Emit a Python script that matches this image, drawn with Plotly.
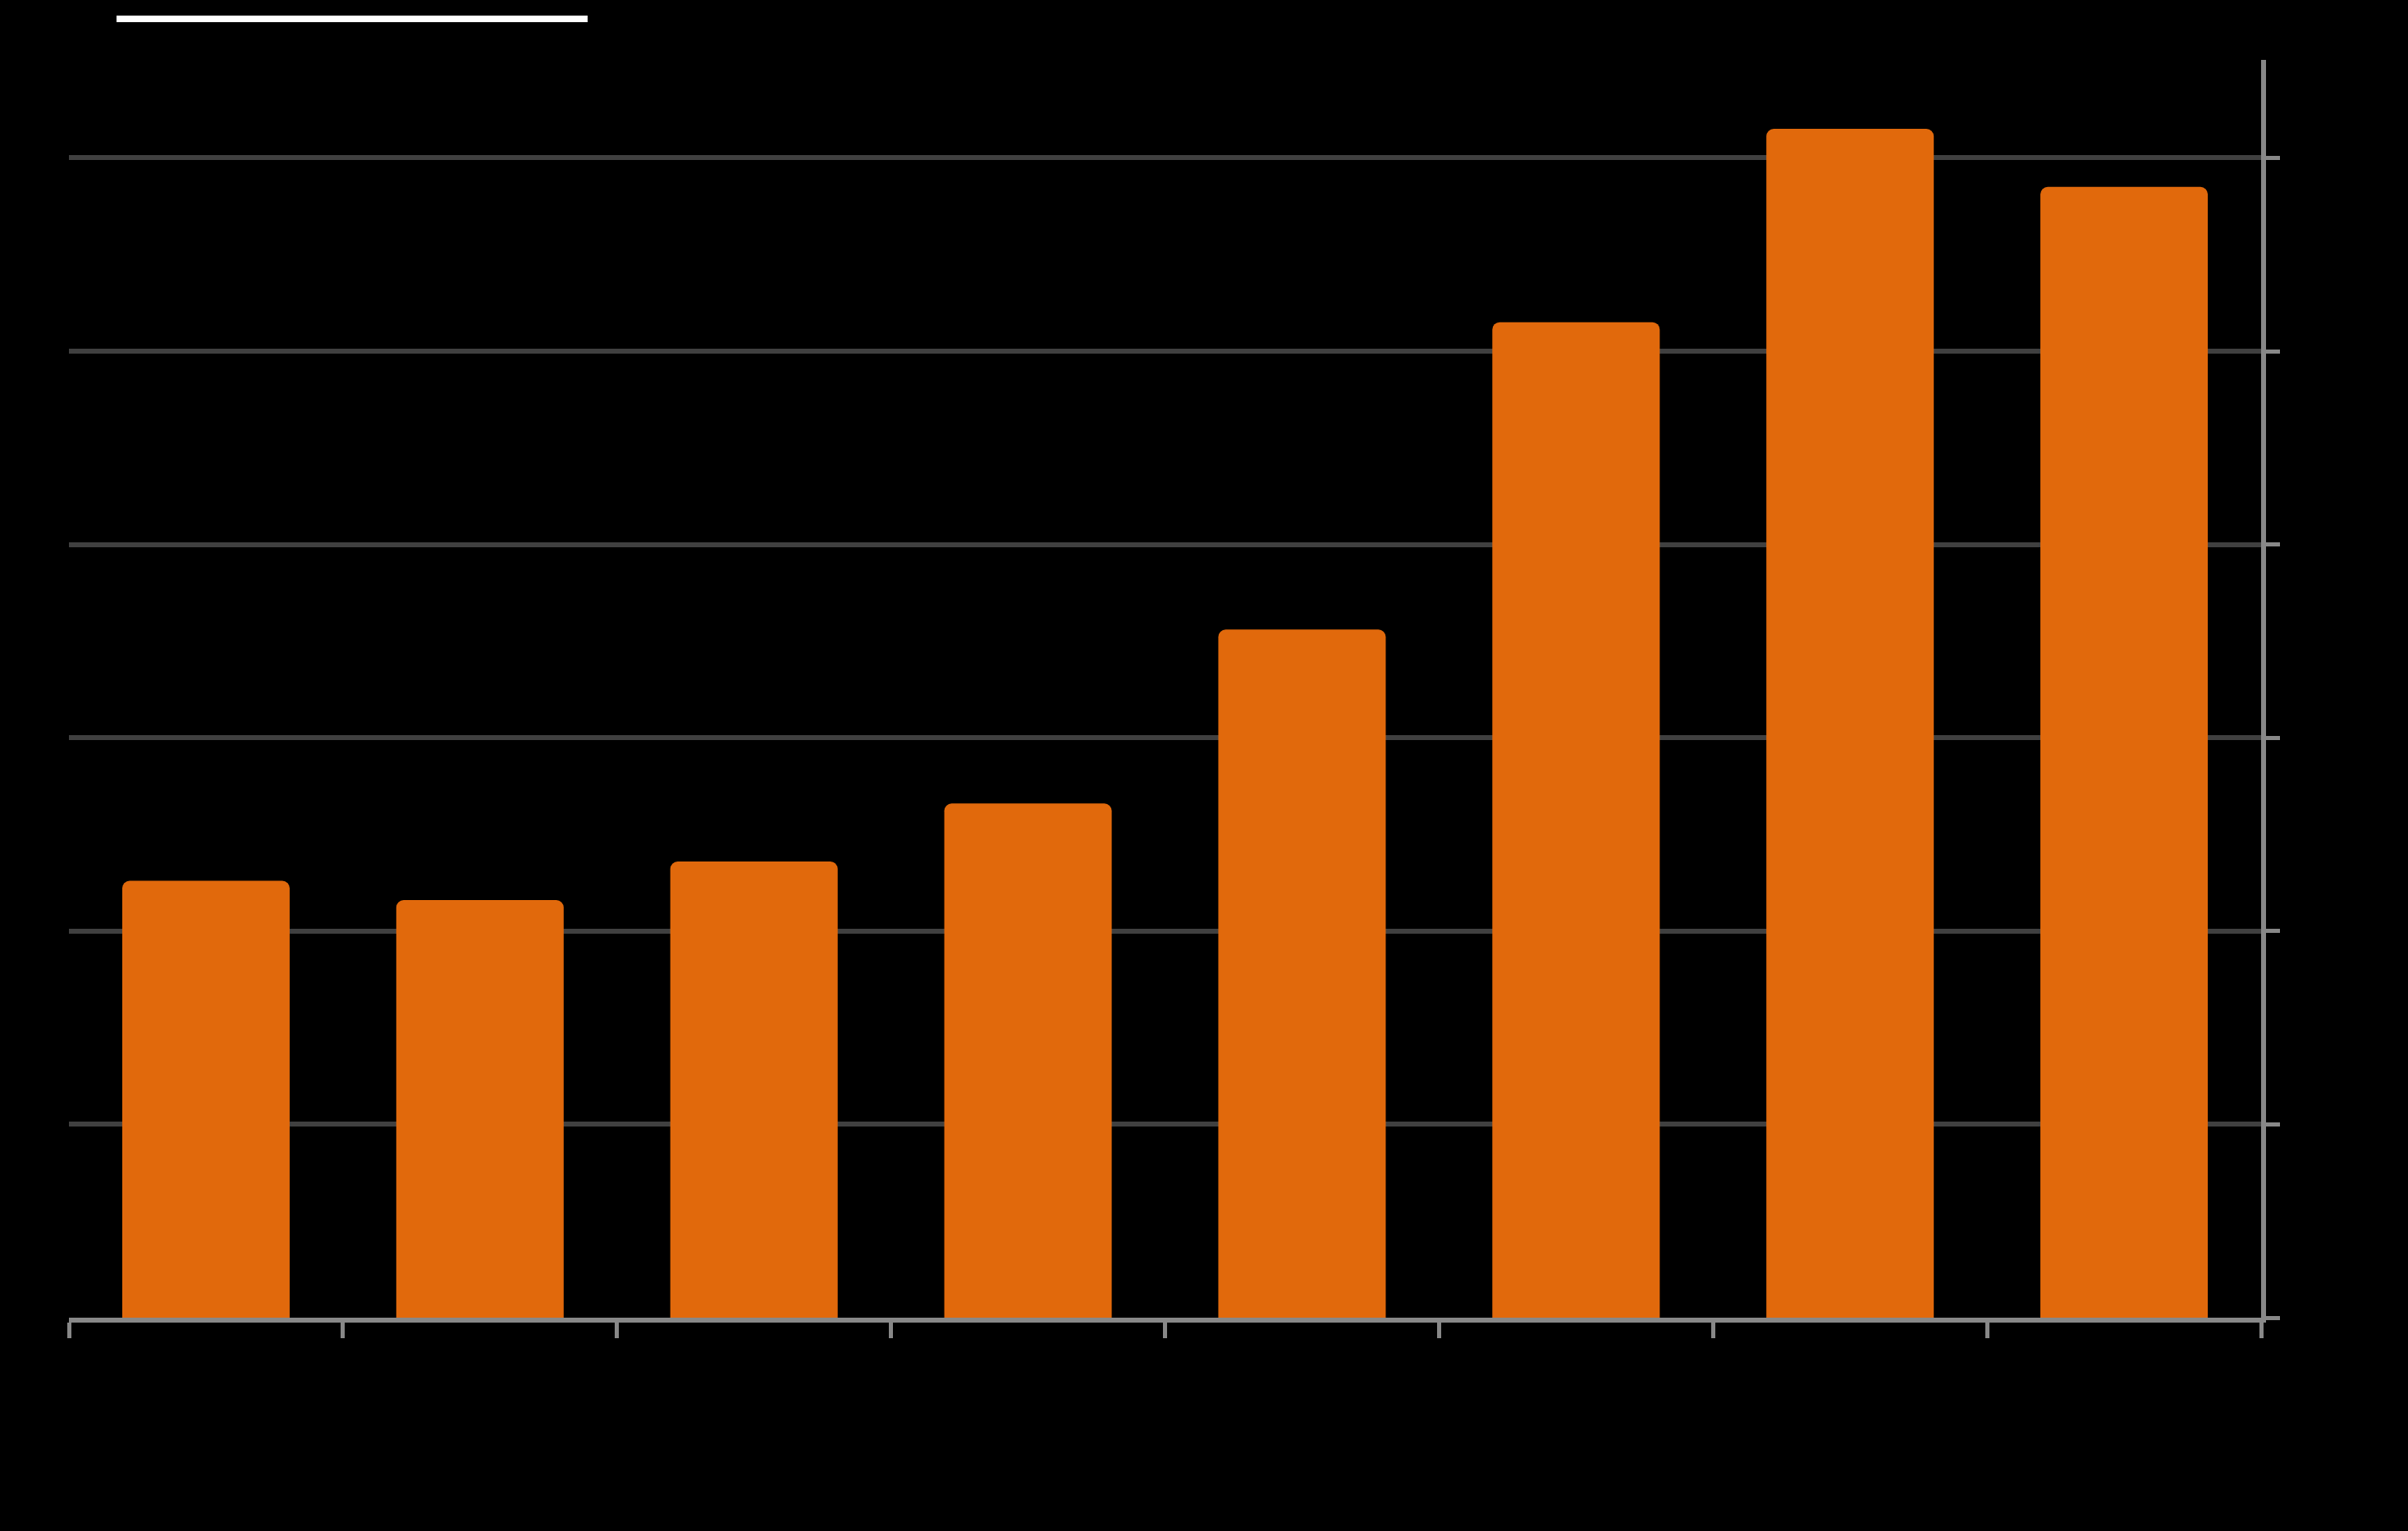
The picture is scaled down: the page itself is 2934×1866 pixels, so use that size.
import plotly.graph_objects as go

categories = ["1", "2", "3", "4", "5", "6", "7", "8"]
values = [22.6, 21.6, 23.6, 26.6, 35.6, 51.5, 61.5, 58.5]
y_tickvals = [0, 10, 20, 30, 40, 50, 60]

BAR = "#E1690C"
AXIS = "#888888"
GRID = "#404040"

fig = go.Figure(go.Bar(
    x=categories, y=values,
    marker=dict(color=BAR, line=dict(width=0)),
    hoverinfo="skip",
))

fig.update_layout(
    width=2934, height=1866,
    margin=dict(l=84, r=179, t=73, b=260),
    paper_bgcolor="black", plot_bgcolor="black",
    bargap=0.389,
    barcornerradius=9,
    showlegend=False,
    shapes=[dict(type="rect", xref="paper", yref="paper",
                 x0=0.0217, x1=0.2366, y0=1.0300, y1=1.0352,
                 fillcolor="white", line=dict(width=0))],
)

fig.update_xaxes(
    type="category", tickson="boundaries", ticks="outside",
    ticklen=19, tickwidth=5, tickcolor=AXIS,
    showline=True, linewidth=6, linecolor=AXIS,
    showgrid=False, showticklabels=False,
)

fig.update_yaxes(
    side="right", range=[0, 65.07], tickvals=y_tickvals,
    ticks="outside", ticklen=17, tickwidth=5, tickcolor=AXIS,
    showline=True, linewidth=6, linecolor=AXIS,
    showgrid=True, gridcolor=GRID, gridwidth=6,
    zeroline=False, showticklabels=False,
)

fig.write_html(
    "out.html",
    config={"displayModeBar": False},
    post_script="document.body.style.margin='0';document.body.style.background='black';document.body.style.overflow='hidden';",
)
